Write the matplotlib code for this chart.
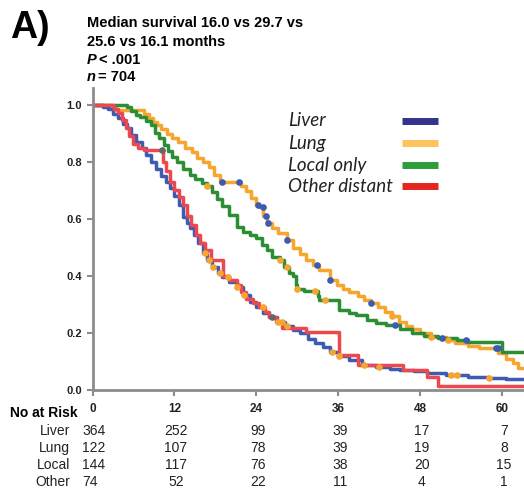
import numpy as np
import matplotlib
matplotlib.use('Agg')
from matplotlib import pyplot as plt
from matplotlib.lines import Line2D
from matplotlib.transforms import blended_transform_factory

plt.rcParams['font.family'] = ['Liberation Sans', 'DejaVu Sans']

##### data (months, survival)
liver_t = [0, 1.5, 2.2, 3.0, 3.7, 4.4, 5.0, 5.7, 6.4, 7.2, 7.9, 8.6, 9.3, 10.0, 10.7, 11.3, 12.0, 12.6,
           13.2, 13.8, 14.2, 14.8, 15.4, 16.1, 16.8, 17.5, 18.3, 19.0, 20.0, 21.1, 22.0, 23.0, 24.0, 25.0,
           25.9, 27.0, 28.2, 29.3, 30.3, 31.5, 32.6, 33.7, 34.7, 36.0, 37.5, 39.5, 41.5, 43.5, 45.0, 47.0,
           49.0, 51.8, 55.0, 58.1, 60.5, 63.2]
liver_s = [1.0, 0.995, 0.985, 0.97, 0.955, 0.935, 0.919, 0.895, 0.87, 0.848, 0.825, 0.80, 0.775, 0.75, 0.73,
           0.709, 0.68, 0.65, 0.607, 0.585, 0.568, 0.545, 0.515, 0.48, 0.455, 0.43, 0.41, 0.395, 0.378, 0.36,
           0.335, 0.31, 0.29, 0.272, 0.256, 0.24, 0.225, 0.21, 0.20, 0.18, 0.165, 0.15, 0.133, 0.12, 0.105,
           0.088, 0.08, 0.074, 0.07, 0.066, 0.06, 0.053, 0.047, 0.042, 0.038, 0.038]

lung_t = [0, 2.5, 3.5, 7.5, 8.2, 8.8, 9.4, 10.0, 10.9, 11.7, 12.5, 13.5, 14.6, 15.3, 16.2, 17.1, 17.8, 18.6,
          21.8, 22.5, 23.2, 24.0, 24.4, 25.0, 25.5, 26.3, 27.2, 28.4, 29.3, 30.3, 31.3, 32.2, 33.2, 34.7,
          35.8, 36.7, 37.6, 38.8, 39.8, 40.8, 41.8, 42.8, 43.9, 44.9, 45.9, 46.8, 47.9, 49.5, 51.8, 53.0,
          55.0, 56.5, 59.4, 60.5, 61.5, 62.3, 63.2]
lung_s = [1.0, 0.99, 0.982, 0.97, 0.955, 0.94, 0.93, 0.915, 0.90, 0.884, 0.87, 0.85, 0.835, 0.815, 0.80,
          0.782, 0.755, 0.73, 0.715, 0.70, 0.675, 0.65, 0.642, 0.61, 0.586, 0.57, 0.55, 0.526, 0.50, 0.478,
          0.456, 0.44, 0.42, 0.386, 0.37, 0.355, 0.344, 0.33, 0.315, 0.305, 0.29, 0.275, 0.26, 0.24, 0.225,
          0.215, 0.20, 0.185, 0.175, 0.165, 0.155, 0.147, 0.13, 0.11, 0.095, 0.077, 0.077]

local_t = [0, 5.0, 5.6, 6.3, 7.0, 7.9, 8.5, 9.2, 9.8, 10.5, 11.1, 11.7, 12.4, 13.3, 14.2, 15.0, 16.0, 16.7,
           17.5, 18.2, 19.0, 20.0, 21.1, 22.0, 23.0, 24.0, 24.8, 25.5, 26.3, 27.4, 28.0, 28.7, 29.3, 29.8,
           30.0, 31.0, 33.0, 33.2, 36.1, 37.5, 38.6, 40.1, 41.5, 43.0, 45.0, 46.8, 48.5, 50.5, 53.3, 55.0,
           60.0, 63.2]
local_s = [1.0, 0.993, 0.979, 0.965, 0.958, 0.944, 0.93, 0.902, 0.884, 0.86, 0.84, 0.818, 0.80, 0.775, 0.754,
           0.74, 0.725, 0.716, 0.695, 0.67, 0.645, 0.614, 0.572, 0.555, 0.545, 0.534, 0.51, 0.49, 0.467,
           0.456, 0.43, 0.41, 0.40, 0.37, 0.354, 0.347, 0.33, 0.316, 0.28, 0.27, 0.263, 0.246, 0.236, 0.228,
           0.215, 0.20, 0.19, 0.183, 0.175, 0.168, 0.133, 0.133]

other_t = [0, 3.2, 3.8, 4.3, 4.9, 5.4, 5.9, 6.6, 7.6, 10.3, 10.8, 11.3, 12.0, 12.6, 13.2, 13.8, 14.4, 15.2,
           15.8, 16.4, 17.4, 19.1, 20.0, 21.1, 21.8, 22.5, 23.5, 24.4, 25.2, 25.9, 26.8, 27.8, 31.3, 36.1,
           38.9, 45.4, 48.9, 50.5, 63.2]
other_s = [1.0, 0.986, 0.973, 0.946, 0.919, 0.892, 0.865, 0.851, 0.842, 0.80, 0.77, 0.73, 0.703, 0.676,
           0.649, 0.61, 0.58, 0.544, 0.517, 0.49, 0.456, 0.40, 0.385, 0.368, 0.345, 0.32, 0.305, 0.29, 0.275,
           0.256, 0.24, 0.218, 0.204, 0.123, 0.088, 0.07, 0.046, 0.014, 0.014]

# censor marks (times), coloured as in the figure
liver_cens_orange = [16.4, 17.1, 17.6, 18.6, 19.8, 21.2, 22.2, 24.9, 27.1, 27.8, 28.4, 35.1, 36.1, 39.8,
                     42.0, 52.5, 53.4, 58.1]
liver_cens_gray = [26.2]
lung_cens_blue = [19.0, 21.5, 24.2, 24.9, 25.4, 25.7, 28.4, 32.9, 34.7, 40.8, 59.1, 59.3]
lung_cens_orange = [43.9, 49.6, 52.0]
local_cens_orange = [16.7, 27.4, 28.4, 30.0, 32.5, 34.0]
local_cens_blue = [44.2, 51.1, 54.7]
other_cens_gray = [10.1]

groups = ['Liver', 'Lung', 'Local only', 'Other distant']
risk_rows = ['Liver', 'Lung', 'Local', 'Other']
risk_times = [0, 12, 24, 36, 48, 60]
risk_liver = [364, 252, 99, 39, 17, 7]
risk_lung = [122, 107, 78, 39, 19, 8]
risk_local = [144, 117, 76, 38, 20, 15]
risk_other = [74, 52, 22, 11, 4, 1]

c_blue = '#3d5bb0'
c_orange = '#f6a52e'
c_green = '#2b8e34'
c_red = '#eb4850'
c_gray = '#666666'
leg_cols = ['#35348c', '#fec35a', '#2d9d3a', '#e5261f']


def surv_at(t, s, x):
    idx = np.searchsorted(t, x, side='right') - 1
    return np.array(s)[idx]


fig = plt.figure(figsize=(5.24, 4.92), dpi=100)
ax = fig.add_axes([92.5/524, 102/492, 431.5/524, 302/492])

lw = 2.5
ax.step(lung_t, lung_s, where='post', color=c_orange, lw=lw)
ax.step(local_t, local_s, where='post', color=c_green, lw=lw)
ax.step(liver_t, liver_s, where='post', color=c_blue, lw=lw)
ax.step(other_t, other_s, where='post', color=c_red, lw=lw)

ms = 4.8
for t, s, cens, col in [(lung_t, lung_s, lung_cens_blue, c_blue),
                        (lung_t, lung_s, lung_cens_orange, c_orange),
                        (local_t, local_s, local_cens_orange, c_orange),
                        (local_t, local_s, local_cens_blue, c_blue),
                        (liver_t, liver_s, liver_cens_orange, c_orange),
                        (liver_t, liver_s, liver_cens_gray, c_gray),
                        (other_t, other_s, other_cens_gray, c_gray)]:
    ax.plot(cens, surv_at(t, s, cens), 'o', color=col, ms=ms, mec='none')

ax.set_xlim(0, 63.15)
ax.set_ylim(0, 1.06)
ax.set_xticks(risk_times)
ax.set_yticks([0, 0.2, 0.4, 0.6, 0.8, 1.0])
ax.set_yticklabels(['0.0', '0.2', '0.4', '0.6', '0.8', '1.0'])
for sp in ['top', 'right']:
    ax.spines[sp].set_visible(False)
for sp in ['left', 'bottom']:
    ax.spines[sp].set_color('#8c8c8c')
    ax.spines[sp].set_linewidth(2)
ax.tick_params(axis='both', colors='#8c8c8c', width=1.5, length=4.5, labelcolor='#222222')
ax.tick_params(axis='x', pad=5, labelsize=8.5)
ax.tick_params(axis='y', pad=3, labelsize=8)
for lab in ax.get_xticklabels() + ax.get_yticklabels():
    lab.set_fontweight('bold')

# title block
fig.text(10/524, 1-28/492, 'A)', fontsize=27, fontweight='bold', va='center')
tx = 87/524
fig.text(tx, 1-23/492, 'Median survival 16.0 vs 29.7 vs', fontsize=10.5, fontweight='bold', va='center')
fig.text(tx, 1-42/492, '25.6 vs 16.1 months', fontsize=10.5, fontweight='bold', va='center')
fig.text(tx, 1-60/492, 'P', fontsize=10.5, fontweight='bold', style='italic', va='center')
fig.text(99/524, 1-60/492, '< .001', fontsize=10.5, fontweight='bold', va='center')
fig.text(tx, 1-77/492, 'n', fontsize=10.5, fontweight='bold', style='italic', va='center')
fig.text(98/524, 1-77/492, '= 704', fontsize=10.5, fontweight='bold', va='center')

# legend
leg_y = [121, 143, 165, 186]
for g, col, y in zip(groups, leg_cols, leg_y):
    fig.text(288/524, 1-y/492, g, fontsize=13.5, style='italic', va='center', color='#222222',
             family=['Lato', 'DejaVu Sans'])
    fig.add_artist(Line2D([402/524, 438/524], [1-y/492, 1-y/492], color=col, lw=5,
                          solid_capstyle='butt'))

# numbers at risk
fig.text(10/524, 1-413/492, 'No at Risk', fontsize=10, fontweight='bold', va='center')
tr = blended_transform_factory(ax.transData, fig.transFigure)
row_y = [431, 448, 465, 482]
for name, vals, y in zip(risk_rows, [risk_liver, risk_lung, risk_local, risk_other], row_y):
    fig.text(70/524, 1-y/492, name, fontsize=10, ha='right', va='center', color='#222222')
    for i, (t, v) in enumerate(zip(risk_times, vals)):
        if i == 0:
            ax.text(-1.5, 1-y/492, str(v), transform=tr, fontsize=10, ha='left', va='center',
                    color='#222222')
        else:
            ax.text(t + 0.2, 1-y/492, str(v), transform=tr, fontsize=10, ha='center', va='center',
                    color='#222222')

fig.savefig('out.png', dpi=100)
